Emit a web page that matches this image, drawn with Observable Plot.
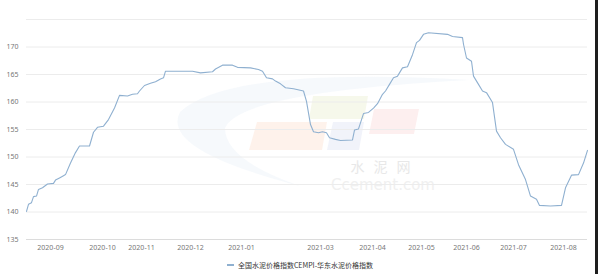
<!DOCTYPE html>
<html>
<head>
<meta charset="utf-8">
<script src="https://cdn.jsdelivr.net/npm/d3@7"></script>
<script src="https://cdn.jsdelivr.net/npm/@observablehq/plot@0.6"></script>
<style>
  html, body { margin: 0; padding: 0; background: #fff; }
  #wrap { position: relative; width: 600px; height: 274px; overflow: hidden; font-family: "Noto Sans CJK SC", "Noto Sans", sans-serif; }
  #wm { position: absolute; left: 0; top: 0; }
  #chart { position: absolute; left: 0; top: 0; }
  #legend { position: absolute; left: 0; top: 256px; width: 600px; height: 18px; display: flex; align-items: center; justify-content: center; font-size: 7px; color: #333; }
  #legend .sw { display: inline-block; width: 7px; height: 1.2px; background: #8fb0d0; margin-right: 4px; }
  #edge { position: absolute; left: 595px; top: 0; width: 3px; height: 274px; background: #1e1e1e; }
</style>
</head>
<body>
<div id="wrap">
  <svg id="wm" width="600" height="274">
    <path d="M 470 80 Q 230 66 180 112 Q 160 150 300 186 Q 225 160 225 128 Q 240 92 470 80 Z" fill="#eaf1f8" opacity="0.45"/>
    <path d="M 257 122 L 327 122 L 322 150 L 249 150 Z" fill="#fde9dd" opacity="0.6"/>
    <path d="M 313 96 L 368 96 L 364 119 L 309 119 Z" fill="#f0f3de" opacity="0.6"/>
    <path d="M 333 122 L 364 122 L 359 150 L 327 150 Z" fill="#e8ebf6" opacity="0.6"/>
    <path d="M 374 109 L 419 109 L 414 134 L 369 134 Z" fill="#fbe4e4" opacity="0.6"/>
    <text x="385" y="172" text-anchor="middle" font-size="14" fill="#e8e8e8" font-family="Noto Sans CJK SC" letter-spacing="9">水泥网</text>
    <text x="383" y="190" text-anchor="middle" font-size="15" fill="#f0f0f0" font-family="DejaVu Sans">Ccement.com</text>
  </svg>
  <div id="chart"></div>
  <div id="legend"><span class="sw"></span><span>全国水泥价格指数CEMPI-华东水泥价格指数</span></div>
  <div id="edge"></div>
</div>
<script>
// x position index (category order along the axis)
const day = [0,2,5,7,10,12,16,21,27,29,33,37,39,44,49,53,63,67,71,77,82,88,93,101,106,111,113,118,124,129,134,137,139,166,174,186,189,196,206,211,224,232,236,240,246,249,254,259,267,277,280,284,287,292,296,300,303,309,314,326,328,332,337,342,347,351,356,359,363,367,371,376,381,386,390,393,397,402,421,426,436,437,440,445,447,452,456,460,466,470,474,479,487,492,499,504,510,513,524,535,539,545,552,557,561];
const value = [140.1,141.4,141.7,142.8,142.9,144.1,144.4,145.1,145.2,145.8,146.2,146.6,146.8,148.9,150.8,152.0,152.0,154.5,155.4,155.6,156.8,158.9,161.2,161.1,161.4,161.5,162.0,163.0,163.4,163.7,164.2,164.4,165.6,165.6,165.3,165.5,166.0,166.7,166.7,166.3,166.2,165.9,165.6,164.4,164.2,163.8,163.3,162.6,162.4,162.0,160.1,155.9,154.6,154.4,154.6,154.4,153.5,153.2,153.0,153.1,154.9,155.1,157.9,158.1,158.9,159.7,161.4,162.0,163.2,164.4,164.7,166.2,166.4,168.6,170.8,171.2,172.3,172.6,172.3,171.9,171.7,170.5,168.0,167.4,164.7,163.2,162.0,161.7,159.9,154.7,153.5,152.3,151.4,148.6,145.9,142.9,142.3,141.2,141.1,141.2,144.4,146.7,146.8,148.9,151.2];
const tickDays = [24,76,115,164,215,294,346,395,440,487,537];
const tickLabels = ["2020-09","2020-10","2020-11","2020-12","2021-01","2021-03","2021-04","2021-05","2021-06","2021-07","2021-08"];
const yTicks = [135,140,145,150,155,160,165,170];
const yGrid = [140,145,150,155,160,165,170,175];

const data = day.map((d, i) => ({day: d, value: value[i]}));
const labelOf = new Map(tickDays.map((d, i) => [d, tickLabels[i]]));

const chart = Plot.plot({
  width: 600,
  height: 256,
  marginLeft: 26,
  marginRight: 13,
  marginTop: 19,
  marginBottom: 17,
  style: {background: "transparent", fontFamily: "'Noto Sans', sans-serif", fontSize: "7px", color: "#777"},
  x: {domain: [0, 561], axis: null, label: null},
  y: {domain: [135, 175], axis: null, label: null},
  marks: [
    Plot.gridY(yGrid, {stroke: "#ececec", strokeOpacity: 1, strokeWidth: 1}),
    Plot.ruleY([135], {stroke: "#dcdcdc", strokeWidth: 1}),
    Plot.axisY(yTicks, {tickSize: 0, tickPadding: 8, fill: "#777", fontSize: 7, label: null}),
    Plot.axisX(tickDays, {tickSize: 0, tickPadding: 6, tickFormat: d => labelOf.get(d), fill: "#777", fontSize: 7, label: null}),
    Plot.line(data, {x: "day", y: "value", stroke: "#8fb0d0", strokeWidth: 1.1, curve: "linear"})
  ]
});
document.getElementById("chart").appendChild(chart);
</script>
</body>
</html>
